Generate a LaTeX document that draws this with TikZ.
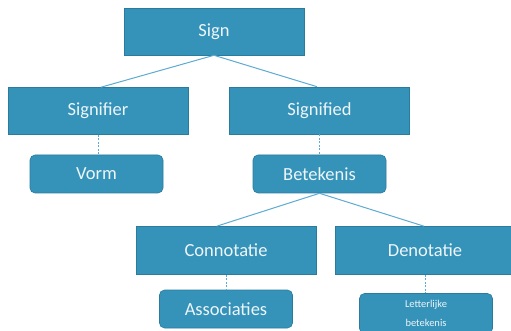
\documentclass[tikz,border=0pt]{standalone}
\usepackage{fontspec}
\setmainfont{Carlito}
\definecolor{boxfill}{HTML}{3593BA}
\definecolor{boxedge}{HTML}{2B7B9E}
\definecolor{linkc}{HTML}{5DAAD2}
\definecolor{txt}{HTML}{EEF5F8}
\begin{document}
\begin{tikzpicture}[x=1pt,y=-1pt,
  box/.style={draw=boxedge,fill=boxfill,line width=0.6pt,inner sep=0pt,
    minimum width=180pt,minimum height=47pt,text=txt,font=\fontsize{18.5}{22}\selectfont},
  rbox/.style={box,rounded corners=5pt,minimum width=133pt,minimum height=38pt},
  solidlink/.style={draw=linkc,line width=1pt},
  dashlink/.style={draw=linkc,line width=1pt,dash pattern=on 2pt off 1.5pt}]
\clip (0,0) rectangle (511,331);
\useasboundingbox (0,0) rectangle (511,331);
\node[box] (sign) at (214,31.5) {Sign};
\node[box] (signifier) at (98,111) {Signifier};
\node[box] (signified) at (319.5,110.5) {Signified};
\node[rbox] (vorm) at (96.5,174) {Vorm};
\node[rbox] (betekenis) at (319.5,174) {Betekenis};
\node[box,minimum height=48pt] (conn) at (226,250.5) {Connotatie};
\node[box,minimum height=48pt] (deno) at (425,250.5) {Denotatie};
\node[rbox] (assoc) at (226,309) {Associaties};
\node[rbox,minimum height=40pt,align=center,font=\fontsize{10.5}{18.5}\selectfont] (letter) at (426,313.5) {Letterlijke\\betekenis};
\draw[solidlink] (sign.south) -- (signifier.north -| 101,0);
\draw[solidlink] (sign.south) -- (signified.north -| 317,0);
\draw[solidlink] (betekenis.south) -- (conn.north -| 216.7,0);
\draw[solidlink] (betekenis.south) -- (deno.north -| 424,0);
\draw[dashlink] (signifier.south) -- (vorm.north -| signifier.south);
\draw[dashlink] (signified.south) -- (betekenis.north -| signified.south);
\draw[dashlink] (conn.south) -- (assoc.north -| conn.south);
\draw[dashlink] (deno.south) -- (letter.north -| deno.south);
\end{tikzpicture}
\end{document}
